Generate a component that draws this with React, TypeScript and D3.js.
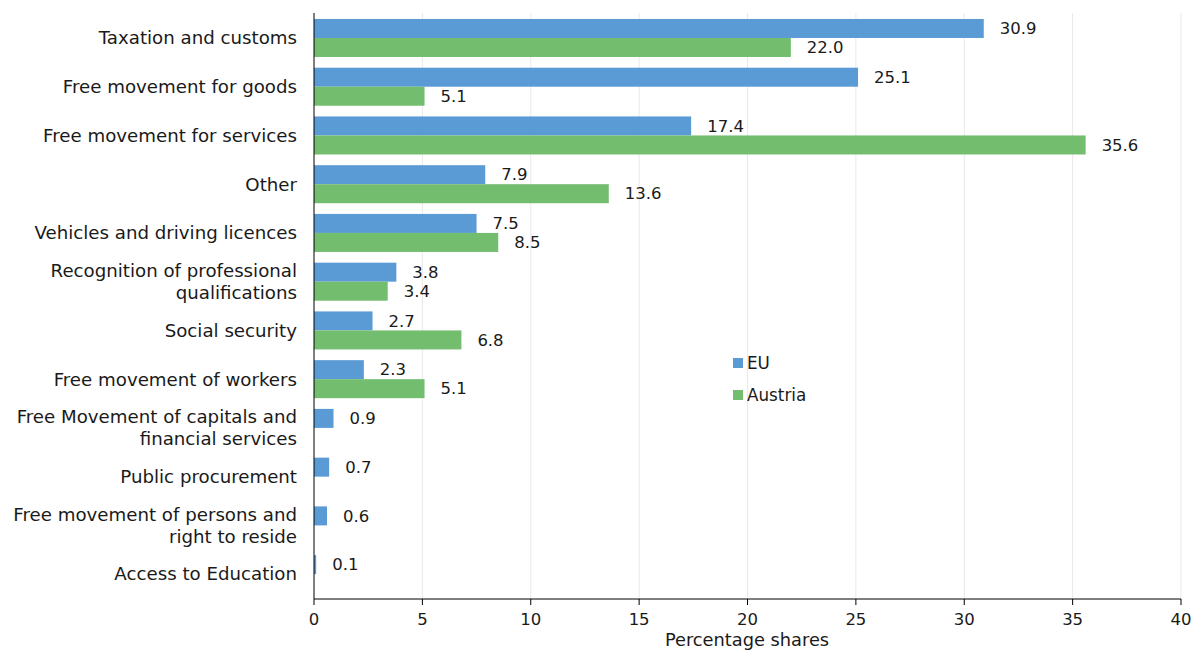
import React from "react";
import * as d3 from "d3";

const categories = [
  "Taxation and customs",
  "Free movement for goods",
  "Free movement for services",
  "Other",
  "Vehicles and driving licences",
  "Recognition of professional\nqualifications",
  "Social security",
  "Free movement of workers",
  "Free Movement of capitals and\nfinancial services",
  "Public procurement",
  "Free movement of persons and\nright to reside",
  "Access to Education",
];
const euValues = [30.9, 25.1, 17.4, 7.9, 7.5, 3.8, 2.7, 2.3, 0.9, 0.7, 0.6, 0.1];
const austriaValues = [22.0, 5.1, 35.6, 13.6, 8.5, 3.4, 6.8, 5.1, 0, 0, 0, 0];
const seriesNames = ["EU", "Austria"];
const xTicks = [0, 5, 10, 15, 20, 25, 30, 35, 40];

const W = 1200;
const H = 651;
const FONT = "'Century Gothic', 'DejaVu Sans', sans-serif";
const BLUE = "#5B9BD5";
const GREEN = "#72BD6E";
const TEXT = "#1a1a1a";

export default function App() {
  const x = d3.scaleLinear().domain([0, 40]).range([314, 1181]);
  const y = d3.scaleBand<string>().domain(categories).range([13.6, 598.5]).paddingInner(0.22).paddingOuter(0.11);
  const sub = d3.scaleBand<string>().domain(seriesNames).range([0, y.bandwidth()]);
  const colors = [BLUE, GREEN];
  const values = [euValues, austriaValues];
  const axisY = 599;

  return (
    <svg width={W} height={H} style={{ position: "absolute", left: 0, top: 0, background: "#fff" }} fontFamily={FONT}>
      {xTicks.slice(1).map((t) => (
        <line key={"g" + t} x1={x(t)} x2={x(t)} y1={13} y2={axisY} stroke="#e9e9e9" strokeWidth={1} />
      ))}
      {categories.map((c, i) =>
        seriesNames.map((s, j) => {
          const v = values[j][i];
          if (!v) return null;
          const yy = (y(c) as number) + (sub(s) as number);
          return (
            <g key={c + s}>
              <rect x={x(0)} y={yy} width={x(v) - x(0)} height={sub.bandwidth()} fill={colors[j]} />
              <text x={x(v) + 16} y={yy + sub.bandwidth() / 2} dy="0.35em" fontSize={16.5} fill={TEXT}>
                {v.toFixed(1)}
              </text>
            </g>
          );
        })
      )}
      {categories.map((c) => {
        const lines = c.split("\n");
        const cy = (y(c) as number) + y.bandwidth() / 2;
        const lh = 22;
        return (
          <text key={"l" + c} x={297} textAnchor="end" fontSize={18.2} fill={TEXT}>
            {lines.map((ln, k) => (
              <tspan key={k} x={297} y={cy + (k - (lines.length - 1) / 2) * lh} dy="0.35em">
                {ln}
              </tspan>
            ))}
          </text>
        );
      })}
      <line x1={x(0)} x2={x(0)} y1={13} y2={axisY} stroke="#000" strokeWidth={1} />
      <line x1={x(0)} x2={x(40)} y1={axisY} y2={axisY} stroke="#000" strokeWidth={1} />
      {xTicks.map((t) => (
        <g key={"t" + t}>
          <line x1={x(t)} x2={x(t)} y1={axisY} y2={axisY + 6} stroke="#000" />
          <text x={x(t)} y={619} dy="0.35em" textAnchor="middle" fontSize={16.5} fill={TEXT}>
            {t}
          </text>
        </g>
      ))}
      <text x={747} y={646} textAnchor="middle" fontSize={17.8} fill={TEXT}>
        Percentage shares
      </text>
      {seriesNames.map((s, j) => (
        <g key={"lg" + s}>
          <rect x={733} y={358 + j * 32} width={10} height={10} fill={colors[j]} />
          <text x={747} y={363 + j * 32} dy="0.35em" fontSize={16.8} fill={TEXT}>
            {s}
          </text>
        </g>
      ))}
    </svg>
  );
}
